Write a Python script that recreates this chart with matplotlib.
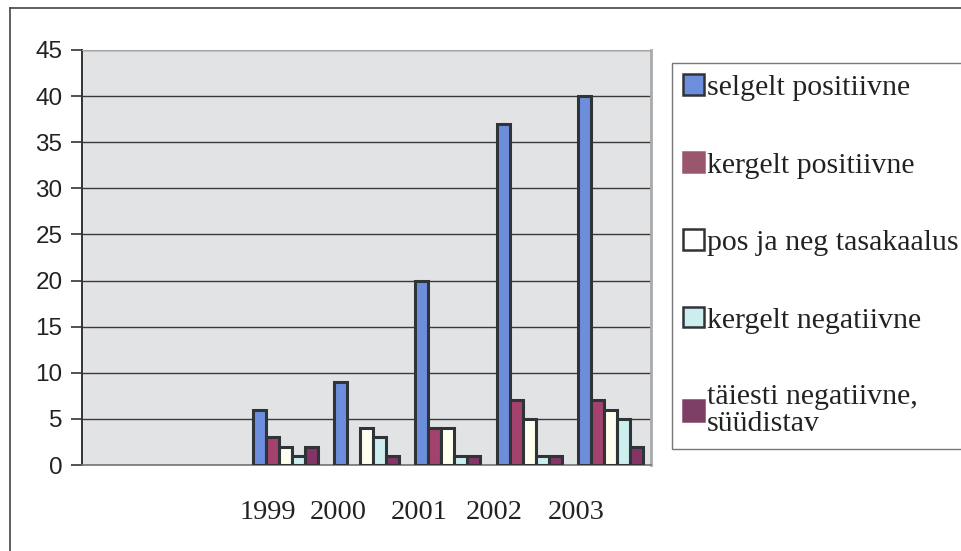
import matplotlib
matplotlib.use("Agg")
import matplotlib.pyplot as plt
from matplotlib.patches import Patch
from matplotlib.lines import Line2D
import numpy as np

categories = ["", "", "1999", "2000", "2001", "2002", "2003"]
series_names = ["selgelt positiivne", "kergelt positiivne", "pos ja neg tasakaalus",
                "kergelt negatiivne", "täiesti negatiivne,\nsüüdistav"]
selgelt_positiivne = [0, 0, 6, 9, 20, 37, 40]
kergelt_positiivne = [0, 0, 3, 0, 4, 7, 7]
tasakaalus = [0, 0, 2, 4, 4, 5, 6]
kergelt_negatiivne = [0, 0, 1, 3, 1, 1, 5]
taiesti_negatiivne = [0, 0, 2, 1, 1, 1, 2]
year_labels = ["1999", "2000", "2001", "2002", "2003"]

series = [selgelt_positiivne, kergelt_positiivne, tasakaalus, kergelt_negatiivne, taiesti_negatiivne]
colors = ["#6C8EDC", "#A4426E", "#FFFFF0", "#CDEEEE", "#843466"]
legend_colors = ["#6C8EDC", "#9A566C", "#FFFFFF", "#CDEEEE", "#7E3F66"]

W, H = 962, 551
fig = plt.figure(figsize=(W / 100, H / 100), dpi=100)
fig.patch.set_facecolor("white")

ax = fig.add_axes([82 / W, (H - 465) / H, (651 - 82) / W, (465 - 50) / H])
ax.set_facecolor("#E2E3E5")

x = np.arange(len(categories))
bw = 0.16
for j, (vals, c) in enumerate(zip(series, colors)):
    xs = x + (j - 2) * bw
    mask = np.array(vals) > 0
    ax.bar(xs[mask], np.array(vals)[mask], width=bw, color=c, edgecolor="#2E3438",
           linewidth=2.2, zorder=3)

ax.set_xlim(-0.5, len(categories) - 0.5)
ax.set_ylim(0, 45)
ax.set_yticks(np.arange(0, 46, 5))
ax.yaxis.grid(True, color="#3A3A3A", linewidth=1.0, zorder=1)
ax.set_axisbelow(True)
ax.set_xticks([])
ax.tick_params(axis="y", direction="out", length=8, width=1.2, color="#333333",
               labelsize=17.5, pad=6, labelcolor="#222222")
for lab in ax.get_yticklabels():
    lab.set_fontfamily("Liberation Sans")
ax.spines["left"].set_color("#333333")
ax.spines["left"].set_linewidth(1.4)
ax.spines["bottom"].set_color("#777777")
ax.spines["bottom"].set_linewidth(1.2)
ax.spines["top"].set_color("#AAAAAA")
ax.spines["right"].set_color("#AAAAAA")
ax.spines["right"].set_linewidth(2)

# year labels (offset below the groups as in the scanned source)
label_shift = [-0.22, -0.35, -0.35, -0.43, -0.42]
for k, lab in enumerate(year_labels):
    xi = categories.index(lab)
    ax.text(xi + label_shift[k], -5.1, lab, ha="center", va="center",
            fontsize=20.5, family="Liberation Serif", color="#222222", clip_on=False)

# legend
handles = [Patch(facecolor=lc, edgecolor=("#2E3438" if j in (0, 2, 3) else lc), linewidth=1.8)
           for j, lc in enumerate(legend_colors)]
leg = fig.legend(handles, series_names, loc="upper left",
                 bbox_to_anchor=(672 / W, 1 - 63 / H), bbox_transform=fig.transFigure,
                 prop={"family": "Liberation Serif", "size": 21.5},
                 handlelength=0.68, handleheight=0.68, handletextpad=0.12,
                 labelspacing=1.7, borderpad=0.38, borderaxespad=0,
                 frameon=True, fancybox=False)
leg.get_frame().set_edgecolor("#555555")
leg.get_frame().set_linewidth(1.0)
for t in leg.get_texts():
    t.set_color("#222222")
    t.set_linespacing(1.05)

# outer border (left and top visible in the crop)
fig.add_artist(Line2D([10 / W, 10 / W], [0, 1 - 8 / H], transform=fig.transFigure,
                      color="#444444", linewidth=1.2))
fig.add_artist(Line2D([10 / W, 1], [1 - 8 / H, 1 - 8 / H], transform=fig.transFigure,
                      color="#444444", linewidth=1.2))

fig.savefig("out.png", dpi=100)
